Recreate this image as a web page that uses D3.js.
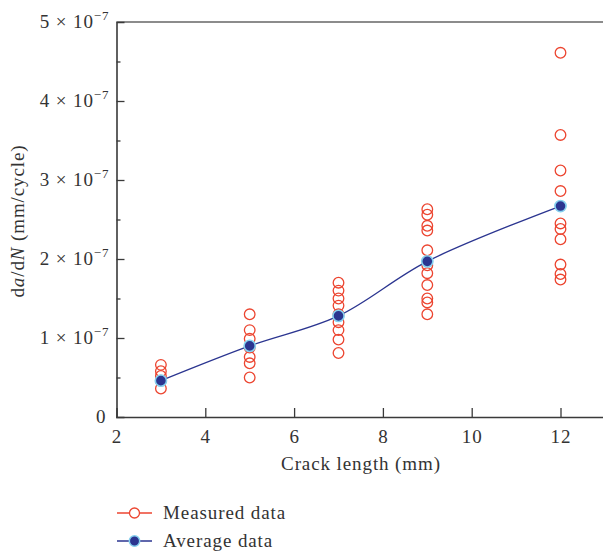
<!DOCTYPE html>
<html>
<head>
<meta charset="utf-8">
<script src="https://cdn.jsdelivr.net/npm/d3@7"></script>
<style>
  html, body { margin: 0; padding: 0; background: #fff; }
  svg { display: block; }
  text { font-family: "Liberation Serif", "Times New Roman", serif; fill: #333; letter-spacing: 0.9px; }
</style>
</head>
<body>
<div id="chart"></div>
<script>
// Crack lengths (mm)
const crackLengths = [3, 5, 7, 9, 12];
// Measured da/dN values, in units of 1e-7 mm/cycle, per crack length
const measured3  = [0.66, 0.58, 0.52, 0.46, 0.36];
const measured5  = [1.30, 1.10, 0.99, 0.88, 0.76, 0.68, 0.50];
const measured7  = [1.70, 1.60, 1.50, 1.41, 1.30, 1.20, 1.10, 0.98, 0.81];
const measured9  = [2.63, 2.56, 2.42, 2.36, 2.11, 1.92, 1.82, 1.67, 1.50, 1.45, 1.30];
const measured12 = [4.61, 3.57, 3.12, 2.86, 2.45, 2.38, 2.25, 1.93, 1.81, 1.74];
// Average da/dN (1e-7 mm/cycle)
const averages = [0.46, 0.90, 1.28, 1.97, 2.67];
// Tick labels
const xTicks = [2, 4, 6, 8, 10, 12];
const yTicks = [0, 1, 2, 3, 4, 5];
const yMinorTicks = [0.5, 1.5, 2.5, 3.5, 4.5];
const legendLabels = ["Measured data", "Average data"];

const measuredSets = [measured3, measured5, measured7, measured9, measured12];

const W = 603, H = 554;
const FS = 19;
const svg = d3.select("#chart").append("svg").attr("width", W).attr("height", H);

const x = d3.scaleLinear().domain([2, 13]).range([116.5, 116.5 + 11 * 44.4]);
const y = d3.scaleLinear().domain([0, 5]).range([417, 22]);

const axisColor = "#3a3a3a";
const red = "#ec4530";
const blue = "#2b3590";
const halo = "#86d0ee";

// frame: top line
svg.append("line").attr("x1", x(2)).attr("x2", W).attr("y1", y(5)).attr("y2", y(5))
  .attr("stroke", "#666").attr("stroke-width", 1.6);

// X axis
const xAxis = d3.axisBottom(x).tickValues(xTicks).tickSize(-9).tickPadding(13).tickFormat(d3.format("d"));
const gx = svg.append("g").attr("transform", `translate(0,${y(0)})`).call(xAxis);
gx.select(".domain").attr("stroke", axisColor).attr("stroke-width", 1.6);
gx.selectAll(".tick line").attr("stroke", axisColor).attr("stroke-width", 1.3);
gx.selectAll(".tick text").attr("font-size", FS).attr("fill", "#333")
  .style("font-family", '"Liberation Serif", serif');
gx.selectAll(".tick").filter(d => d === 2).select("line").remove();

// Y axis
const yAxis = d3.axisLeft(y).tickValues(yTicks).tickSize(-8).tickPadding(12).tickFormat("");
const gy = svg.append("g").attr("transform", `translate(${x(2)},0)`).call(yAxis);
gy.select(".domain").attr("stroke", axisColor).attr("stroke-width", 1.6);
gy.selectAll(".tick line").attr("stroke", axisColor).attr("stroke-width", 1.3);
gy.selectAll(".tick").filter(d => d === 0 || d === 5).select("line").remove();
gy.selectAll(".tick text").remove();

// minor y ticks
const yMinor = d3.axisLeft(y).tickValues(yMinorTicks).tickSize(-4).tickFormat("");
const gym = svg.append("g").attr("transform", `translate(${x(2)},0)`).call(yMinor);
gym.select(".domain").remove();
gym.selectAll(".tick line").attr("stroke", axisColor).attr("stroke-width", 1.3);

// Y tick labels with superscripts
yTicks.forEach(v => {
  const t = svg.append("text")
    .attr("x", x(2) - 7)
    .attr("y", y(v) + 6)
    .attr("text-anchor", "end")
    .attr("font-size", FS);
  if (v === 0) {
    t.attr("x", x(2) - 10).text("0");
  } else {
    t.append("tspan").text(`${v} \u00d7 10`);
    t.append("tspan").attr("font-size", 13).attr("dy", -8).text("\u22127");
  }
});

// Axis titles
svg.append("text")
  .attr("x", 361)
  .attr("y", 470)
  .attr("text-anchor", "middle")
  .attr("font-size", FS)
  .text("Crack length (mm)");

const yl = svg.append("text")
  .attr("transform", `translate(24,${221}) rotate(-90)`)
  .attr("text-anchor", "middle")
  .attr("font-size", FS);
yl.append("tspan").text("d");
yl.append("tspan").attr("font-style", "italic").text("a");
yl.append("tspan").text("/d");
yl.append("tspan").attr("font-style", "italic").text("N");
yl.append("tspan").text(" (mm/cycle)");

// Measured points
const measuredPoints = [];
crackLengths.forEach((c, i) => measuredSets[i].forEach(v => measuredPoints.push({ c, v })));
svg.append("g").selectAll("circle").data(measuredPoints).join("circle")
  .attr("cx", d => x(d.c)).attr("cy", d => y(d.v)).attr("r", 5.3)
  .attr("fill", "none").attr("stroke", red).attr("stroke-width", 1.3);

// Average line
const avgData = crackLengths.map((c, i) => ({ c, v: averages[i] }));
svg.append("path").datum(avgData)
  .attr("d", d3.line().x(d => x(d.c)).y(d => y(d.v)).curve(d3.curveCatmullRom.alpha(0.5)))
  .attr("fill", "none").attr("stroke", blue).attr("stroke-width", 1.3);

svg.append("g").selectAll("circle").data(avgData).join("circle")
  .attr("cx", d => x(d.c)).attr("cy", d => y(d.v)).attr("r", 5.6)
  .attr("fill", blue).attr("stroke", halo).attr("stroke-width", 1.6);

// Legend
const legend = svg.append("g");
const ly = [513, 541];
legend.append("line").attr("x1", 117).attr("x2", 152).attr("y1", ly[0]).attr("y2", ly[0])
  .attr("stroke", red).attr("stroke-width", 1.3);
legend.append("circle").attr("cx", 134.5).attr("cy", ly[0]).attr("r", 5)
  .attr("fill", "#fff").attr("stroke", red).attr("stroke-width", 1.3);
legend.append("text").attr("x", 163).attr("y", ly[0] + 6).attr("font-size", FS).text(legendLabels[0]);
legend.append("line").attr("x1", 117).attr("x2", 152).attr("y1", ly[1]).attr("y2", ly[1])
  .attr("stroke", blue).attr("stroke-width", 1.3);
legend.append("circle").attr("cx", 134.5).attr("cy", ly[1]).attr("r", 5.2)
  .attr("fill", blue).attr("stroke", halo).attr("stroke-width", 1.5);
legend.append("text").attr("x", 163).attr("y", ly[1] + 6).attr("font-size", FS).text(legendLabels[1]);
</script>
</body>
</html>
